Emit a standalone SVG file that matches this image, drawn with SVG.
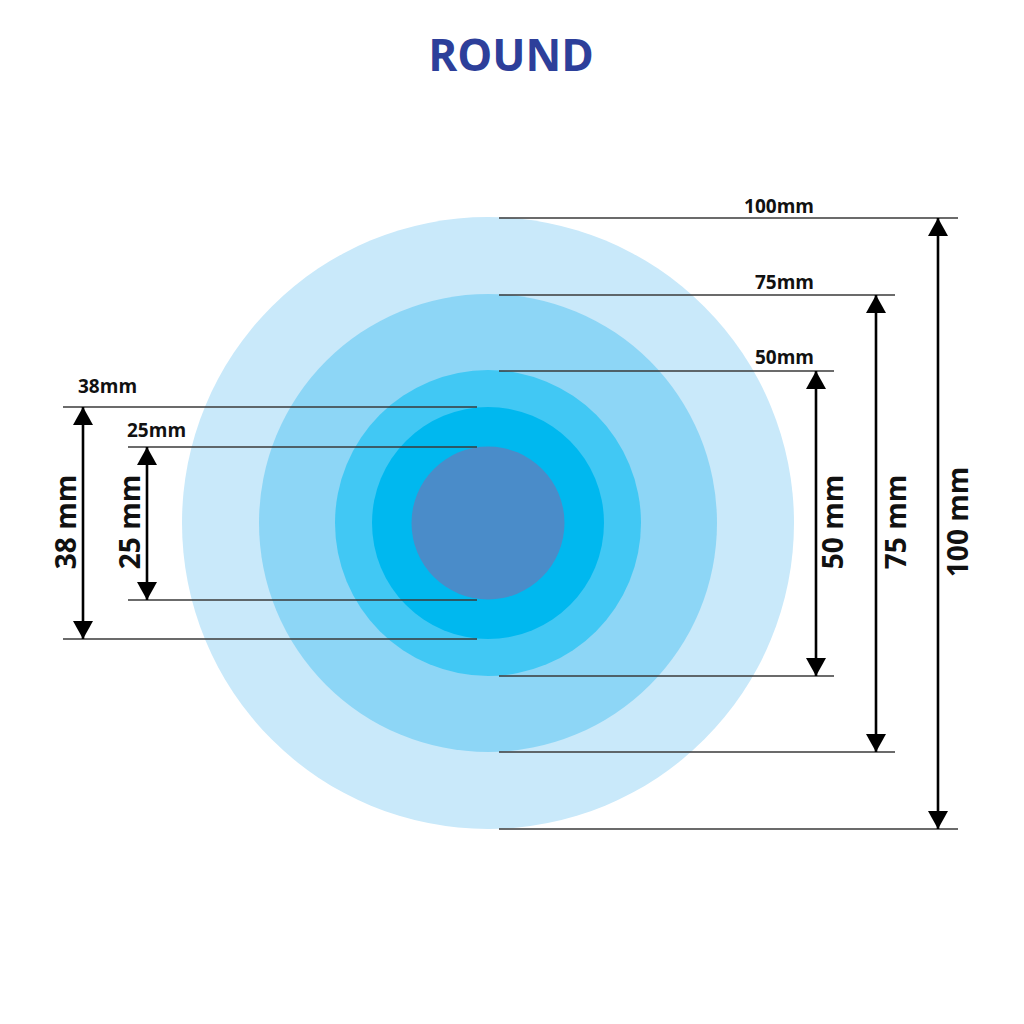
<svg xmlns="http://www.w3.org/2000/svg" width="1024" height="1024" viewBox="0 0 1024 1024">
<style>
.ext{stroke:#3a3a3a;stroke-width:1.3;fill:none}
.dim{stroke:#000;stroke-width:2.6;fill:none;marker-start:url(#ah);marker-end:url(#ah)}
.small{font-family:"Open Sans","Liberation Sans",sans-serif;font-weight:700;font-size:19px;fill:#111}
.big{font-family:"Open Sans","Liberation Sans",sans-serif;font-weight:700;font-size:28px;fill:#111;text-anchor:middle}
.title{font-family:"Open Sans","Liberation Sans",sans-serif;font-weight:700;font-size:44px;fill:#2d3f9a;text-anchor:middle}
</style>
<defs>
<marker id="ah" viewBox="0 0 18 20" refX="18" refY="10" markerWidth="18" markerHeight="20" markerUnits="userSpaceOnUse" orient="auto-start-reverse">
<path d="M0,0 L18,10 L0,20 z" fill="#000"/>
</marker>
</defs>
<rect width="1024" height="1024" fill="#fff"/>
<text class="title" x="511" y="71">ROUND</text>
<g id="circles">
<circle id="c100" cx="488" cy="523" r="306" fill="#c9e9fa"/>
<circle id="c75" cx="488" cy="523" r="229" fill="#8dd6f6"/>
<circle id="c50" cx="488" cy="523" r="153" fill="#41c8f4"/>
<circle id="c38" cx="488" cy="523" r="116" fill="#00b8ef"/>
<circle id="c25" cx="488" cy="523" r="76.5" fill="#4a8cc9"/>
</g>
<g id="connectors">
<line class="ext" x1="499" y1="218" x2="958" y2="218"/>
<line class="ext" x1="499" y1="829" x2="958" y2="829"/>
<line class="ext" x1="499" y1="295" x2="895" y2="295"/>
<line class="ext" x1="499" y1="752" x2="895" y2="752"/>
<line class="ext" x1="499" y1="371" x2="834" y2="371"/>
<line class="ext" x1="499" y1="676" x2="834" y2="676"/>
<line class="ext" x1="63" y1="407" x2="477" y2="407"/>
<line class="ext" x1="63" y1="639" x2="477" y2="639"/>
<line class="ext" x1="128" y1="447" x2="477" y2="447"/>
<line class="ext" x1="128" y1="600" x2="477" y2="600"/>
<line class="dim" x1="938" y1="218" x2="938" y2="829"/>
<line class="dim" x1="876" y1="295" x2="876" y2="752"/>
<line class="dim" x1="816" y1="371" x2="816" y2="676"/>
<line class="dim" x1="83" y1="407" x2="83" y2="639"/>
<line class="dim" x1="147" y1="447" x2="147" y2="600"/>
</g>
<g id="labels">
<text class="small" x="814" y="213" text-anchor="end">100mm</text>
<text class="small" x="814" y="289" text-anchor="end">75mm</text>
<text class="small" x="814" y="364" text-anchor="end">50mm</text>
<text class="small" x="78" y="393">38mm</text>
<text class="small" x="127" y="437">25mm</text>
<text class="big" transform="translate(76,522) rotate(-90)">38 mm</text>
<text class="big" transform="translate(140,522) rotate(-90)">25 mm</text>
<text class="big" transform="translate(843,522) rotate(-90)">50 mm</text>
<text class="big" transform="translate(906,522) rotate(-90)">75 mm</text>
<text class="big" transform="translate(968,522) rotate(-90)">100 mm</text>
</g>
</svg>
